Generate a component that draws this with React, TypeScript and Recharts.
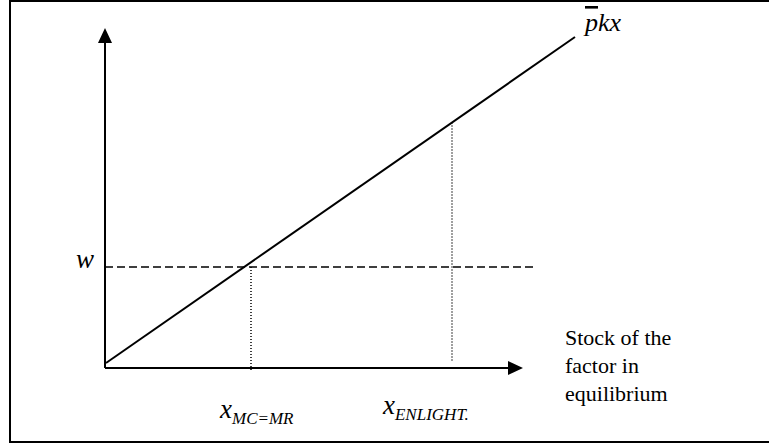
import React from 'react';
import { ComposedChart, Line, XAxis, YAxis, ReferenceLine, ReferenceDot } from 'recharts';

// Data (chart units: x = stock of the factor, y = value)
const lineX = [1, 470];
const lineY = [5, 331];
const wLevel = 101;
const wLineEnd = 430;
const xMC = 146;
const xEnlight = 347;
const xAxisEnd = 418;
const yAxisEnd = 340;
const xLabels = ['MC=MR', 'ENLIGHT.'];
const axisText = ['Stock of the', 'factor in', 'equilibrium'];

const pkxData = lineX.map((x, i) => ({ x, y: lineY[i] }));
const slope = (lineY[1] - lineY[0]) / (lineX[1] - lineX[0]);
const lineAt = (x: number) => lineY[0] + slope * (x - lineX[0]);

const FONT = '"Liberation Serif", "Times New Roman", serif';

const UpArrow = (props: any) => {
  const { cx, cy } = props;
  return <polygon points={`${cx},${cy} ${cx - 7},${cy + 15} ${cx + 7},${cy + 15}`} fill="#000" />;
};
const RightArrow = (props: any) => {
  const { cx, cy } = props;
  return <polygon points={`${cx},${cy} ${cx - 15},${cy - 7} ${cx - 15},${cy + 7}`} fill="#000" />;
};

const WLabel = (props: any) => {
  const { viewBox } = props;
  return (
    <text x={viewBox.x - 29} y={viewBox.y + 1} fontFamily={FONT} fontStyle="italic" fontSize={27} fill="#000">w</text>
  );
};

const SubLabel = (sub: string, dx: number, dy: number) => (props: any) => {
  const { viewBox } = props;
  return (
    <text x={viewBox.x + dx} y={viewBox.y + dy} fontFamily={FONT} fontStyle="italic" fill="#000">
      <tspan fontSize={27}>x</tspan>
      <tspan fontSize={17} dy={6}>{sub}</tspan>
    </text>
  );
};

const PkxLabel = (props: any) => {
  const { cx, cy } = props;
  return (
    <text x={cx + 10} y={cy - 6} fontFamily={FONT} fontStyle="italic" fontSize={26} fill="#000">
      <tspan style={{ textDecoration: 'overline' }}>p</tspan>
      <tspan>kx</tspan>
    </text>
  );
};

const AxisText = (props: any) => {
  const { cx, cy } = props;
  return (
    <text x={cx + 42} y={cy - 23} fontFamily={FONT} fontSize={22} fill="#000">
      {axisText.map((t, i) => (
        <tspan key={i} x={cx + 42} dy={i === 0 ? 0 : 28}>{t}</tspan>
      ))}
    </text>
  );
};

export default function App() {
  return (
    <div style={{ position: 'absolute', left: 0, top: 0, width: 769, height: 445, overflow: 'hidden', background: '#fff' }}>
      <div style={{ position: 'absolute', left: 9, top: 0, width: 760, height: 2, background: '#000' }} />
      <div style={{ position: 'absolute', left: 9, top: 0, width: 2, height: 443, background: '#000' }} />
      <div style={{ position: 'absolute', left: 9, top: 441, width: 760, height: 2, background: '#000' }} />
      <div style={{ position: 'absolute', left: 0, top: 0 }}>
        <ComposedChart width={769} height={445} data={pkxData} margin={{ top: 28, left: 105, right: 64, bottom: 77 }}>
          <XAxis type="number" dataKey="x" domain={[0, 600]} hide allowDataOverflow />
          <YAxis type="number" domain={[0, 340]} hide allowDataOverflow />
          <ReferenceLine segment={[{ x: 0, y: 0 }, { x: 0, y: yAxisEnd - 10 }]} stroke="#000" strokeWidth={2} ifOverflow="visible" />
          <ReferenceLine segment={[{ x: 0, y: 0 }, { x: xAxisEnd - 10, y: 0 }]} stroke="#000" strokeWidth={2} ifOverflow="visible" />
          <ReferenceDot x={0} y={yAxisEnd} r={1} shape={UpArrow} ifOverflow="visible" />
          <ReferenceDot x={xAxisEnd} y={0} r={1} shape={RightArrow} ifOverflow="visible" />
          <ReferenceLine segment={[{ x: 0, y: wLevel }, { x: wLineEnd, y: wLevel }]} stroke="#000" strokeWidth={1.5} strokeDasharray="8 4" ifOverflow="visible" label={WLabel} />
          <ReferenceLine segment={[{ x: xMC, y: wLevel }, { x: xMC, y: -4 }]} stroke="#000" strokeWidth={1.5} strokeDasharray="1 2" ifOverflow="visible" />
          <ReferenceLine segment={[{ x: xEnlight, y: lineAt(xEnlight) }, { x: xEnlight, y: 6 }]} stroke="#000" strokeWidth={1.5} strokeDasharray="1 2" ifOverflow="visible" />
          <ReferenceDot x={xMC} y={0} r={0} fill="none" stroke="none" ifOverflow="visible" label={SubLabel(xLabels[0], -31, 50)} />
          <ReferenceDot x={xEnlight} y={0} r={0} fill="none" stroke="none" ifOverflow="visible" label={SubLabel(xLabels[1], -69, 46)} />
          <Line type="linear" dataKey="y" stroke="#000" strokeWidth={2} dot={false} isAnimationActive={false} />
          <ReferenceDot x={lineX[1]} y={lineY[1]} r={1} shape={PkxLabel} ifOverflow="visible" />
          <ReferenceDot x={xAxisEnd} y={0} r={1} shape={AxisText} ifOverflow="visible" />
        </ComposedChart>
      </div>
    </div>
  );
}
